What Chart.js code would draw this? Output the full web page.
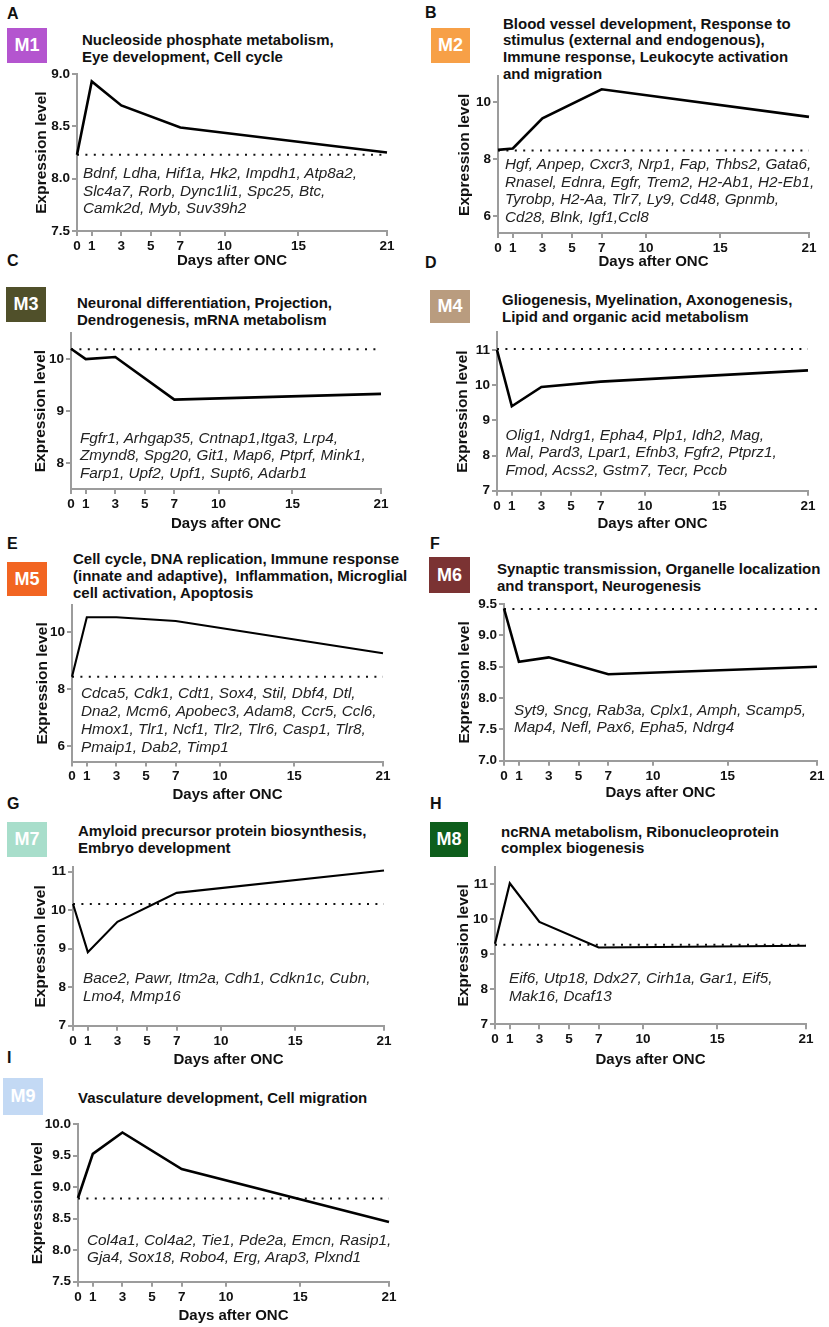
<!DOCTYPE html>
<html>
<head>
<meta charset="utf-8">
<script src="https://cdn.jsdelivr.net/npm/chart.js@4.4.0/dist/chart.umd.min.js"></script>
<style>
body { margin: 0; background: #fff; }
#fig { position: relative; width: 829px; height: 1327px; overflow: hidden; font-family: "Liberation Sans", Arial, sans-serif; }
.lab { position: absolute; font-weight: bold; font-size: 16px; line-height: 16px; color: #111; }
.badge { position: absolute; color: #fff; font-weight: bold; font-size: 18px; display: flex; align-items: center; justify-content: center; }
.ttl { position: absolute; font-weight: bold; font-size: 15px; line-height: 16.8px; color: #111; white-space: pre; }
.genes { position: absolute; font-style: italic; font-size: 15.3px; line-height: 17.7px; color: #222; white-space: pre; }
canvas { position: absolute; }
</style>
</head>
<body>
<div id="fig"></div>
<script>
// days sampled after optic nerve crush
const days = [0, 1, 3, 7, 21];
const xTicks = [0, 1, 3, 5, 7, 10, 15, 21];

// mean expression per module, one value per day
const m1Values = [8.23, 8.93, 8.70, 8.49, 8.25];
const m2Values = [8.32, 8.37, 9.43, 10.45, 9.48];
const m3Values = [10.20, 10.00, 10.04, 9.22, 9.33];
const m4Values = [11.00, 9.40, 9.95, 10.10, 10.42];
const m5Values = [8.44, 10.53, 10.53, 10.40, 9.26];
const m6Values = [9.43, 8.58, 8.65, 8.38, 8.50];
const m7Values = [10.16, 8.91, 9.70, 10.45, 11.03];
const m8Values = [9.30, 11.02, 9.92, 9.19, 9.24];
const m9Values = [8.83, 9.53, 9.87, 9.29, 8.45];

// dotted baseline (day 0 level)
const baselines = [8.23, 8.30, 10.19, 11.03, 8.44, 9.42, 10.16, 9.27, 8.82];

// y tick labels
const m1Ticks = [7.5, 8.0, 8.5, 9.0];
const m2Ticks = [6, 8, 10];
const m3Ticks = [8, 9, 10];
const m4Ticks = [7, 8, 9, 10, 11];
const m5Ticks = [6, 8, 10];
const m6Ticks = [7.0, 7.5, 8.0, 8.5, 9.0, 9.5];
const m7Ticks = [7, 8, 9, 10, 11];
const m8Ticks = [7, 8, 9, 10, 11];
const m9Ticks = [7.5, 8.0, 8.5, 9.0, 9.5, 10.0];

const FONT = '"Liberation Sans", Arial, sans-serif';
const AXIS = '#9c9c9c';

// layout: plot = [x of day 0, x of day 21, y of max, y of min]
const panels = [
  { letter: 'A', lx: 7, ly: 6, badge: 'M1', color: '#b455cf', bx: [7, 28, 40, 35],
    title: ['Nucleoside phosphate metabolism,', 'Eye development, Cell cycle'], tx: 82, ty: 32,
    genes: ['Bdnf, Ldha, Hif1a, Hk2, Impdh1, Atp8a2,', 'Slc4a7, Rorb, Dync1li1, Spc25, Btc,', 'Camk2d, Myb, Suv39h2'], gx: 83, gy: 164,
    values: m1Values, ticks: m1Ticks, dec: 1, yMin: 7.5, yMax: 9.0, plot: [77, 387, 74, 231], yTitleX: 42, xTitleY: 261, lw: 2.6 },
  { letter: 'B', lx: 425, ly: 5, badge: 'M2', color: '#f7a047', bx: [431, 28, 39, 35],
    title: ['Blood vessel development, Response to', 'stimulus (external and endogenous),', 'Immune response, Leukocyte activation', 'and migration'], tx: 503, ty: 15.5,
    genes: ['Hgf, Anpep, Cxcr3, Nrp1, Fap, Thbs2, Gata6,', 'Rnasel, Ednra, Egfr, Trem2, H2-Ab1, H2-Eb1,', 'Tyrobp, H2-Aa, Tlr7, Ly9, Cd48, Gpnmb,', 'Cd28, Blnk, Igf1,Ccl8'], gx: 505, gy: 155,
    values: m2Values, ticks: m2Ticks, dec: 0, yMin: 5.4, yMax: 10.9, plot: [498, 809, 76.4, 233.1], yTitleX: 465, xTitleY: 262, lw: 2.6 },
  { letter: 'C', lx: 7, ly: 253, badge: 'M3', color: '#50502a', bx: [6, 287, 40, 35],
    title: ['Neuronal differentiation, Projection,', 'Dendrogenesis, mRNA metabolism'], tx: 77, ty: 295,
    genes: ['Fgfr1, Arhgap35, Cntnap1,Itga3, Lrp4,', 'Zmynd8, Spg20, Git1, Map6, Ptprf, Mink1,', 'Farp1, Upf2, Upf1, Supt6, Adarb1'], gx: 80, gy: 428.5,
    values: m3Values, ticks: m3Ticks, dec: 0, yMin: 7.5, yMax: 10.5, plot: [71, 381, 333, 489], yTitleX: 40.5, xTitleY: 523.5, lw: 2.6 },
  { letter: 'D', lx: 425, ly: 255, badge: 'M4', color: '#b99c7f', bx: [430, 290, 40, 33],
    title: ['Gliogenesis, Myelination, Axonogenesis,', 'Lipid and organic acid metabolism'], tx: 502, ty: 292,
    genes: ['Olig1, Ndrg1, Epha4, Plp1, Idh2, Mag,', 'Mal, Pard3, Lpar1, Efnb3, Fgfr2, Ptprz1,', 'Fmod, Acss2, Gstm7, Tecr, Pccb'], gx: 505.5, gy: 425.7,
    values: m4Values, ticks: m4Ticks, dec: 0, yMin: 7, yMax: 11.5, plot: [497, 808, 332.4, 490.7], yTitleX: 463, xTitleY: 523.5, lw: 2.6 },
  { letter: 'E', lx: 7, ly: 536, badge: 'M5', color: '#f26522', bx: [7, 562, 40, 34],
    title: ['Cell cycle, DNA replication, Immune response', '(innate and adaptive),  Inflammation, Microglial', 'cell activation, Apoptosis'], tx: 73, ty: 551,
    genes: ['Cdca5, Cdk1, Cdt1, Sox4, Stil, Dbf4, Dtl,', 'Dna2, Mcm6, Apobec3, Adam8, Ccr5, Ccl6,', 'Hmox1, Tlr1, Ncf1, Tlr2, Tlr6, Casp1, Tlr8,', 'Pmaip1, Dab2, Timp1'], gx: 81, gy: 684.4,
    values: m5Values, ticks: m5Ticks, dec: 0, yMin: 5.45, yMax: 10.95, plot: [72, 383, 605.3, 761.6], yTitleX: 42.5, xTitleY: 794.5, lw: 2.1 },
  { letter: 'F', lx: 430, ly: 536, badge: 'M6', color: '#7b3333', bx: [429, 557, 41, 36],
    title: ['Synaptic transmission, Organelle localization', 'and transport, Neurogenesis'], tx: 497, ty: 561,
    genes: ['Syt9, Sncg, Rab3a, Cplx1, Amph, Scamp5,', 'Map4, Nefl, Pax6, Epha5, Ndrg4'], gx: 514, gy: 700.7,
    values: m6Values, ticks: m6Ticks, dec: 1, yMin: 7, yMax: 9.5, plot: [504, 817, 604, 760.7], yTitleX: 464.5, xTitleY: 792.5, lw: 2.6 },
  { letter: 'G', lx: 7, ly: 796, badge: 'M7', color: '#a8decb', bx: [7, 822, 40, 35],
    title: ['Amyloid precursor protein biosynthesis,', 'Embryo development'], tx: 78, ty: 823,
    genes: ['Bace2, Pawr, Itm2a, Cdh1, Cdkn1c, Cubn,', 'Lmo4, Mmp16'], gx: 83, gy: 969,
    values: m7Values, ticks: m7Ticks, dec: 0, yMin: 7, yMax: 11.12, plot: [73, 384, 867, 1025.7], yTitleX: 41, xTitleY: 1059.5, lw: 2.1 },
  { letter: 'H', lx: 430, ly: 796, badge: 'M8', color: '#0e5e1c', bx: [430, 822, 38, 35],
    title: ['ncRNA metabolism, Ribonucleoprotein', 'complex biogenesis'], tx: 501, ty: 823.5,
    genes: ['Eif6, Utp18, Ddx27, Cirh1a, Gar1, Eif5,', 'Mak16, Dcaf13'], gx: 509, gy: 969,
    values: m8Values, ticks: m8Ticks, dec: 0, yMin: 7, yMax: 11.5, plot: [495, 806, 866.5, 1024.3], yTitleX: 463.5, xTitleY: 1059.5, lw: 2.2 },
  { letter: 'I', lx: 7, ly: 1050, badge: 'M9', color: '#c3d9f4', bx: [3, 1078, 40, 37],
    title: ['Vasculature development, Cell migration'], tx: 78, ty: 1089.7,
    genes: ['Col4a1, Col4a2, Tie1, Pde2a, Emcn, Rasip1,', 'Gja4, Sox18, Robo4, Erg, Arap3, Plxnd1'], gx: 87, gy: 1230.7,
    values: m9Values, ticks: m9Ticks, dec: 1, yMin: 7.5, yMax: 10, plot: [78, 389, 1124.3, 1281.7], yTitleX: 37.5, xTitleY: 1315.5, lw: 2.6 }
];

const fig = document.getElementById('fig');

function addDiv(cls, x, y, text) {
  const d = document.createElement('div');
  d.className = cls;
  d.style.left = x + 'px';
  d.style.top = y + 'px';
  d.textContent = text;
  fig.appendChild(d);
  return d;
}

panels.forEach((p, i) => {
  addDiv('lab', p.lx, p.ly, p.letter);
  const b = addDiv('badge', p.bx[0], p.bx[1], p.badge);
  b.style.width = p.bx[2] + 'px';
  b.style.height = p.bx[3] + 'px';
  b.style.background = p.color;
  addDiv('ttl', p.tx, p.ty, p.title.join('\n'));

  const [pl, pr, pt, pb] = p.plot;
  const cl = Math.floor(p.yTitleX - 9.3);
  const ct = Math.floor(pt - 10);
  const cw = Math.ceil(pr + 14) - cl;
  const ch = Math.ceil(p.xTitleY + 9) - ct;
  const yW = pl - cl;
  const xH = ct + ch - pb;

  const cv = document.createElement('canvas');
  cv.width = cw;
  cv.height = ch;
  cv.style.left = cl + 'px';
  cv.style.top = ct + 'px';
  cv.style.width = cw + 'px';
  cv.style.height = ch + 'px';
  fig.appendChild(cv);

  // gene list sits above the canvas
  addDiv('genes', p.gx, p.gy, p.genes.join('\n'));

  const base = baselines[i];
  new Chart(cv, {
    type: 'line',
    data: {
      datasets: [
        {
          data: days.map((d, k) => ({ x: d, y: p.values[k] })),
          borderColor: '#000',
          borderWidth: p.lw,
          pointRadius: 0,
          tension: 0,
          clip: false
        },
        {
          data: [{ x: xTicks[0], y: base }, { x: xTicks[xTicks.length - 1], y: base }],
          borderColor: '#111',
          borderWidth: 2,
          borderDash: [2, 6.4],
          pointRadius: 0,
          clip: false
        }
      ]
    },
    options: {
      responsive: false,
      animation: false,
      layout: { padding: { left: 0, top: pt - ct, right: cl + cw - pr, bottom: 0 } },
      plugins: { legend: { display: false }, tooltip: { enabled: false } },
      scales: {
        x: {
          type: 'linear',
          min: 0,
          max: 21,
          afterBuildTicks: s => { s.ticks = xTicks.map(v => ({ value: v })); },
          afterFit: s => { s.height = xH; },
          ticks: { autoSkip: false, maxRotation: 0, padding: 2, color: '#111', font: { family: FONT, size: 13.5, weight: 'bold' } },
          grid: { drawOnChartArea: false, tickLength: 5, color: AXIS, lineWidth: 2 },
          border: { color: AXIS, width: 2 },
          title: { display: true, text: 'Days after ONC', color: '#111', padding: 0, font: { family: FONT, size: 15, weight: 'bold', lineHeight: 1.2 } }
        },
        y: {
          min: p.yMin,
          max: p.yMax,
          afterBuildTicks: s => { s.ticks = p.ticks.map(v => ({ value: v })); },
          afterFit: s => { s.width = yW; },
          ticks: { padding: 2, color: '#111', font: { family: FONT, size: 13.5, weight: 'bold' }, callback: v => v.toFixed(p.dec) },
          grid: { drawOnChartArea: false, tickLength: 5, color: AXIS, lineWidth: 2 },
          border: { color: AXIS, width: 2 },
          title: { display: true, text: 'Expression level', color: '#111', padding: 0, font: { family: FONT, size: 15.5, weight: 'bold', lineHeight: 1.2 } }
        }
      }
    }
  });
});
</script>
</body>
</html>
